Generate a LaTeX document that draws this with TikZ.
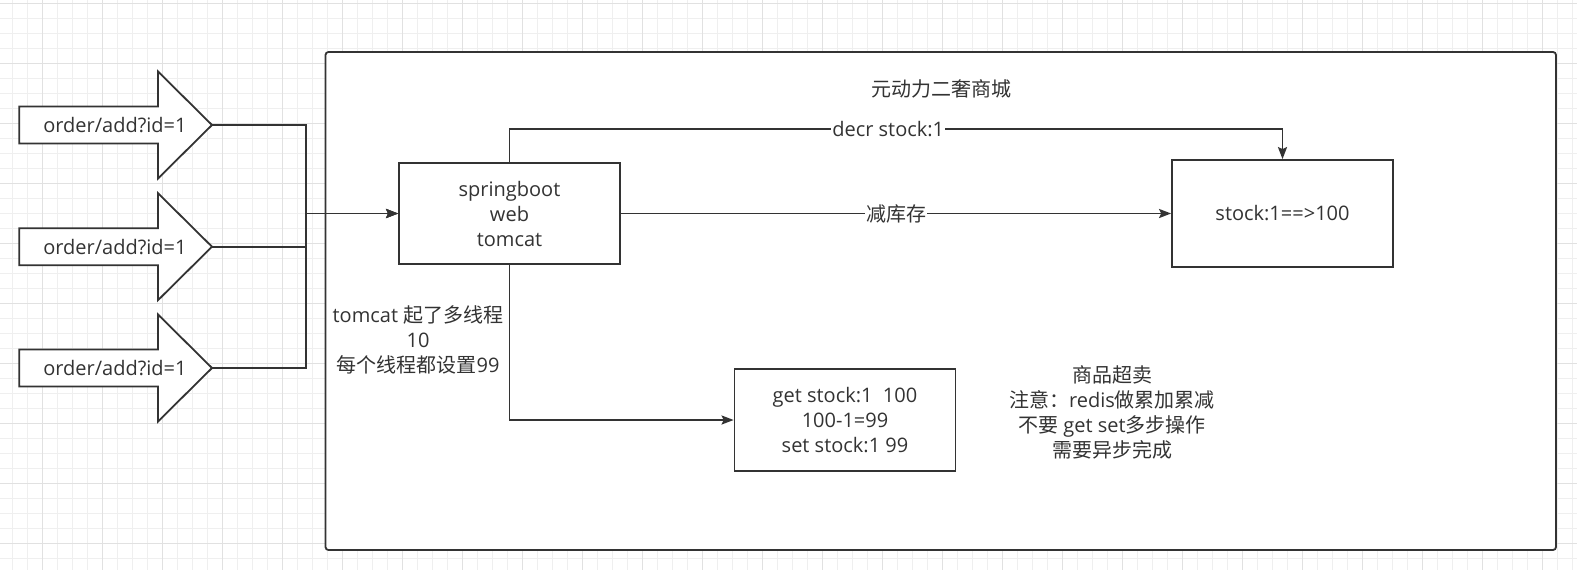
\documentclass[tikz,border=0pt]{standalone}
\usepackage{fontspec}
\setmainfont{Open Sans}
\newfontfamily\cjk{Noto Sans CJK SC}
\usetikzlibrary{arrows.meta}
\definecolor{ink}{HTML}{333333}
\definecolor{gridminor}{HTML}{EFEFEF}
\definecolor{gridmajor}{HTML}{E1E1E1}

\begin{document}
\begin{tikzpicture}[x=1pt, y=-1pt,
    font=\fontsize{20}{25}\selectfont, text=ink,
    box/.style={draw=ink, line width=1.8pt, fill=white, minimum width=221pt, align=center, inner sep=0pt},
    edge/.style={draw=ink, line width=1.8pt, -{Stealth[length=12pt, width=9pt, inset=2pt]}},
    wire/.style={draw=ink, line width=1.8pt},
    lbl/.style={fill=white, inner sep=1pt}]
    \useasboundingbox (0,0) rectangle (1577,570);
    % Grid
    \fill[white] (0,0) rectangle (1577,570);
    \foreach \gx in {12.3,27.3,...,1577} \draw[gridminor, line width=1pt] (\gx,0) -- (\gx,570);
    \foreach \gy in {3.3,18.3,...,570} \draw[gridminor, line width=1pt] (0,\gy) -- (1577,\gy);
    \foreach \gx in {42.3,102.3,...,1577} \draw[gridmajor, line width=1pt] (\gx,0) -- (\gx,570);
    \foreach \gy in {3.3,63.3,...,570} \draw[gridmajor, line width=1pt] (0,\gy) -- (1577,\gy);
    %
    % Shop container
    \node[draw=ink, line width=1.8pt, fill=white, rounded corners=3pt, minimum width=1230.5pt, minimum height=498pt, inner sep=0pt] (shop) at (940.75,301) {};
    \node (title) at (941,89) {\cjk 元动力二奢商城};
    %
    % Requests
    \foreach \name/\ty in {reqA/125, reqB/246.7, reqC/368} {
        \draw[wire, fill=white] (19.3,\ty-18.5) -- (158,\ty-18.5) -- (158,\ty-53.5) -- (212,\ty)
            -- (158,\ty+53.5) -- (158,\ty+18.5) -- (19.3,\ty+18.5) -- cycle;
        \node (\name) at (115,\ty) {order/add?id=1};
        \coordinate (\name tip) at (212,\ty);
    }
    %
    % Boxes
    \node[box, minimum height=101pt] (web) at (509.5,213.5) {springboot\\web\\tomcat};
    \node[box, minimum height=107pt] (stock) at (1282.5,213.5) {stock:1==>100};
    \node[box, minimum height=102pt] (calc) at (845,420) {get stock:1\ \ 100\\100-1=99\\set stock:1 99};
    %
    % Notes
    \node[align=center] (threads) at (418,340) {tomcat {\cjk 起了多线程}\\10\\{\cjk 每个线程都设置}99};
    \node[align=center] (note) at (1112,412.5) {{\cjk 商品超卖}\\{\cjk 注意：}redis{\cjk 做累加累减}\\{\cjk 不要} get set{\cjk 多步操作}\\{\cjk 需要异步完成}};
    %
    % Connectors
    \foreach \name in {reqA, reqB, reqC}
        \draw[edge] (\name tip) -- ++(93.7,0) |- (web.west);
    \draw[edge] (web.north) -- ++(0,-33) -| (stock.north) node[lbl, pos=0.245] (decr) {decr stock:1};
    \draw[edge] (web.east) -- node[lbl] (minus) {\cjk 减库存} (stock.west);
    \draw[edge] (web.south) |- (calc.west);
\end{tikzpicture}
\end{document}
